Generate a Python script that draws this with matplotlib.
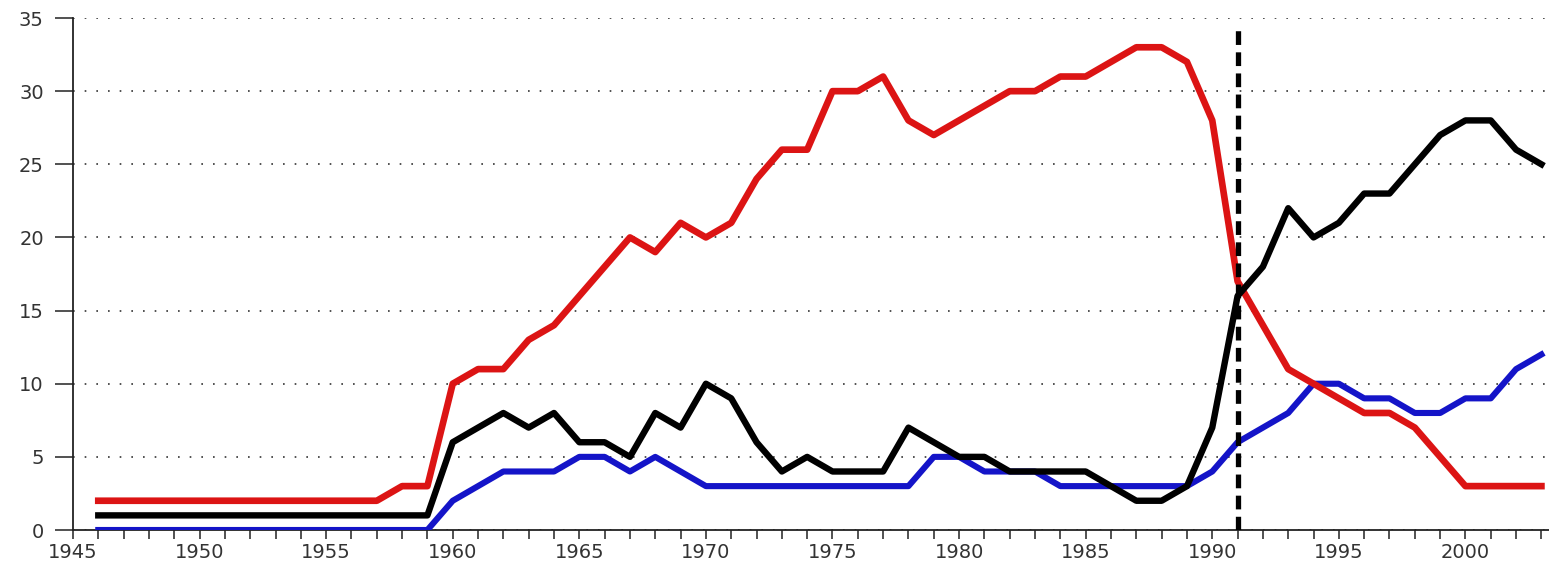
import numpy as np
import matplotlib
matplotlib.use('Agg')
import matplotlib.pyplot as plt
from matplotlib.ticker import MultipleLocator

years = list(range(1946, 2004))

red = [2, 2, 2, 2, 2, 2, 2, 2, 2, 2, 2, 2, 3, 3,          # 1946-1959
       10, 11, 11, 13, 14, 16, 18, 20, 19, 21,            # 1960-1969
       20, 21, 24, 26, 26, 30, 30, 31, 28, 27,            # 1970-1979
       28, 29, 30, 30, 31, 31, 32, 33, 33, 32,            # 1980-1989
       28, 17, 14, 11, 10, 9, 8, 8, 7, 5,                 # 1990-1999
       3, 3, 3, 3]                                        # 2000-2003

black = [1, 1, 1, 1, 1, 1, 1, 1, 1, 1, 1, 1, 1, 1,
         6, 7, 8, 7, 8, 6, 6, 5, 8, 7,
         10, 9, 6, 4, 5, 4, 4, 4, 7, 6,
         5, 5, 4, 4, 4, 4, 3, 2, 2, 3,
         7, 16, 18, 22, 20, 21, 23, 23, 25, 27,
         28, 28, 26, 25]

blue = [0, 0, 0, 0, 0, 0, 0, 0, 0, 0, 0, 0, 0, 0,
        2, 3, 4, 4, 4, 5, 5, 4, 5, 4,
        3, 3, 3, 3, 3, 3, 3, 3, 3, 5,
        5, 4, 4, 4, 3, 3, 3, 3, 3, 3,
        4, 6, 7, 8, 10, 10, 9, 9, 8, 8,
        9, 9, 11, 12]

marker_year = 1991
marker_top = 34.4

fig = plt.figure(figsize=(15.49, 5.63), dpi=100)
ax = fig.add_axes([0.0471, 0.0586, 0.9529, 0.9094])

ax.plot(years, blue, color='#1414c8', lw=4.4, solid_joinstyle='round', zorder=3)
ax.plot(years, red, color='#dc1414', lw=4.8, solid_joinstyle='round', zorder=4)
ax.plot(years, black, color='black', lw=4.6, solid_joinstyle='round', zorder=5)
ax.plot([marker_year, marker_year], [0, marker_top], color='black', lw=3.8,
        dashes=(2.6, 1.4), zorder=6)

ax.set_xlim(1945, 2003.3)
ax.set_ylim(0, 35)

ax.xaxis.set_major_locator(MultipleLocator(5))
ax.xaxis.set_minor_locator(MultipleLocator(1))
ax.yaxis.set_major_locator(MultipleLocator(5))

ax.tick_params(axis='x', which='both', direction='out', length=6.5, width=1.1,
               color='#222222', labelsize=14, pad=3)
ax.tick_params(axis='y', direction='out', length=13, width=1.1,
               color='#222222', labelsize=14, pad=8)
for lab in ax.get_xticklabels() + ax.get_yticklabels():
    lab.set_color('#333333')

ax.grid(axis='y', color='#333333', lw=1.2, linestyle=(0, (1, 6)))
ax.set_axisbelow(True)

for s in ['top', 'right']:
    ax.spines[s].set_visible(False)
for s in ['left', 'bottom']:
    ax.spines[s].set_linewidth(1.3)
    ax.spines[s].set_color('#222222')

fig.savefig('out.png', dpi=100)
